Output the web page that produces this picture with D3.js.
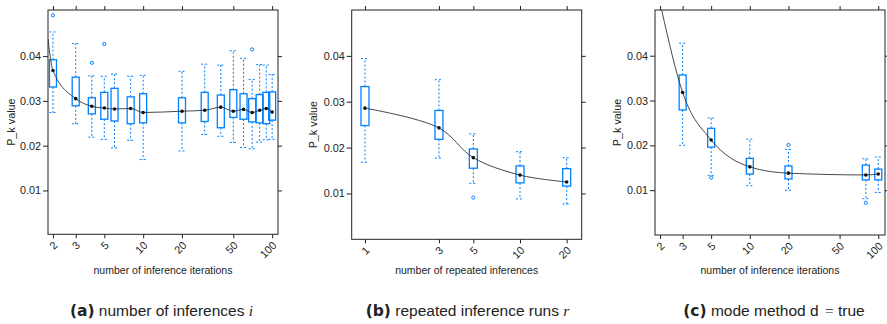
<!DOCTYPE html>
<html>
<head>
<meta charset="utf-8">
<script src="https://cdn.jsdelivr.net/npm/d3@7"></script>
<style>
  body { margin: 0; background: #fff; }
  svg text { font-family: "Liberation Sans", Arial, sans-serif; fill: #222; }
</style>
</head>
<body>
<svg id="chart" width="887" height="324"></svg>
<script>
// -------------------- DATA --------------------
// (a) number of inference iterations
const itersA = [2, 3, 4, 5, 6, 8, 10, 20, 30, 40, 50, 60, 70, 80, 90, 100];
const lowA  = [0.0274, 0.0249, 0.0219, 0.0214, 0.0195, 0.0212, 0.0169, 0.0188, 0.0225, 0.0221, 0.0207, 0.0196, 0.0193, 0.0208, 0.0213, 0.0214];
const q1A   = [0.0331, 0.0289, 0.0271, 0.0259, 0.0255, 0.0249, 0.0251, 0.0251, 0.0254, 0.0240, 0.0263, 0.0259, 0.0253, 0.0251, 0.0249, 0.0257];
const medA  = [0.0368, 0.0305, 0.0288, 0.0284, 0.0282, 0.0283, 0.0274, 0.0277, 0.0279, 0.0286, 0.0277, 0.0281, 0.0274, 0.0279, 0.0283, 0.0275];
const q3A   = [0.0392, 0.0353, 0.0307, 0.0319, 0.0328, 0.0309, 0.0316, 0.0307, 0.0319, 0.0313, 0.0325, 0.0316, 0.0305, 0.0314, 0.0319, 0.0320];
const highA = [0.0454, 0.0428, 0.0356, 0.0355, 0.0360, 0.0355, 0.0357, 0.0366, 0.0382, 0.0380, 0.0412, 0.0395, 0.0348, 0.0381, 0.0380, 0.0359];
const outA  = [[2, 0.0491], [4, 0.0385], [5, 0.0427], [70, 0.0415]];
const lineStartA = [1.83, 0.0438];

// (b) repeated inference runs
const runsB = [1, 3, 5, 10, 20];
const lowB  = [0.0168, 0.0177, 0.0122, 0.0088, 0.0077];
const q1B   = [0.0248, 0.0218, 0.0155, 0.0123, 0.0116];
const medB  = [0.0286, 0.0243, 0.0178, 0.0140, 0.0125];
const q3B   = [0.0333, 0.0281, 0.0197, 0.0160, 0.0154];
const highB = [0.0394, 0.0348, 0.0230, 0.0191, 0.0178];
const outB  = [[5, 0.0091]];

// (c) mode method d = true
const itersC = [3, 5, 10, 20, 80, 100];
const lowC  = [0.0200, 0.0133, 0.0110, 0.0100, 0.0081, 0.0095];
const q1C   = [0.0279, 0.0196, 0.0136, 0.0125, 0.0123, 0.0123];
const medC  = [0.0318, 0.0212, 0.0152, 0.0138, 0.0134, 0.0136];
const q3C   = [0.0357, 0.0238, 0.0171, 0.0154, 0.0156, 0.0147];
const highC = [0.0428, 0.0261, 0.0214, 0.0191, 0.0170, 0.0174];
const outC  = [[5, 0.0128], [20, 0.0201], [80, 0.0072]];
const lineStartC = [2.06, 0.0502];

const yTicks = [0.01, 0.02, 0.03, 0.04];
const xTicksIter = [2, 3, 5, 10, 20, 50, 100];
const xTicksRuns = [1, 3, 5, 10, 20];

// -------------------- SVG --------------------
const svg = d3.select("#chart");
const blue = "#0080ff";

function makeBoxes(xs, lo, q1, md, q3, hi) {
  return xs.map((v, i) => ({ x: v, lo: lo[i], q1: q1[i], md: md[i], q3: q3[i], hi: hi[i] }));
}

function drawPanel(p) {
  const x = d3.scaleLog().domain(p.xDom).range([p.left, p.right]);
  const y = d3.scaleLinear().domain(p.yDom).range([p.bottom, p.top]);
  const g = svg.append("g");

  const clipId = "clip" + p.id;
  g.append("clipPath").attr("id", clipId)
    .append("rect")
    .attr("x", p.left).attr("y", p.top)
    .attr("width", p.right - p.left).attr("height", p.bottom - p.top);

  const plot = g.append("g").attr("clip-path", `url(#${clipId})`);
  const bw = p.boxWidth;

  // whiskers
  const wh = plot.append("g")
    .attr("stroke", blue).attr("stroke-width", 1).attr("stroke-dasharray", "2,2");
  wh.selectAll(".wu").data(p.boxes).join("line")
    .attr("x1", d => x(d.x)).attr("x2", d => x(d.x))
    .attr("y1", d => y(d.q3)).attr("y2", d => y(d.hi));
  wh.selectAll(".wl").data(p.boxes).join("line")
    .attr("x1", d => x(d.x)).attr("x2", d => x(d.x))
    .attr("y1", d => y(d.q1)).attr("y2", d => y(d.lo));
  wh.selectAll(".cu").data(p.boxes).join("line")
    .attr("x1", d => x(d.x) - bw / 2).attr("x2", d => x(d.x) + bw / 2)
    .attr("y1", d => y(d.hi)).attr("y2", d => y(d.hi));
  wh.selectAll(".cl").data(p.boxes).join("line")
    .attr("x1", d => x(d.x) - bw / 2).attr("x2", d => x(d.x) + bw / 2)
    .attr("y1", d => y(d.lo)).attr("y2", d => y(d.lo));

  // boxes
  plot.append("g").selectAll("rect").data(p.boxes).join("rect")
    .attr("x", d => x(d.x) - bw / 2)
    .attr("y", d => y(d.q3))
    .attr("width", bw)
    .attr("height", d => y(d.q1) - y(d.q3))
    .attr("fill", "none")
    .attr("stroke", blue)
    .attr("stroke-width", 1.3);

  // outliers
  plot.append("g").selectAll("circle").data(p.outliers).join("circle")
    .attr("cx", d => x(d[0])).attr("cy", d => y(d[1]))
    .attr("r", 1.6)
    .attr("fill", "none").attr("stroke", blue).attr("stroke-width", 1);

  // trend line
  const pts = (p.lineStart ? [p.lineStart] : []).concat(p.boxes.map(d => [d.x, d.md]));
  plot.append("path")
    .datum(pts)
    .attr("fill", "none")
    .attr("stroke", "#333")
    .attr("stroke-width", 0.9)
    .attr("d", d3.line().x(d => x(d[0])).y(d => y(d[1])).curve(p.curve));

  // median dots
  plot.append("g").selectAll("circle").data(p.boxes).join("circle")
    .attr("cx", d => x(d.x)).attr("cy", d => y(d.md))
    .attr("r", 1.8).attr("fill", "#111");

  // axes
  const fmt = d3.format(".2f");
  const left = g.append("g").attr("transform", `translate(${p.left},0)`)
    .call(d3.axisLeft(y).tickValues(yTicks).tickSize(5).tickPadding(2).tickFormat(fmt));
  const right = g.append("g").attr("transform", `translate(${p.right},0)`)
    .call(d3.axisRight(y).tickValues(yTicks).tickSize(4).tickFormat(""));
  const top = g.append("g").attr("transform", `translate(0,${p.top})`)
    .call(d3.axisTop(x).tickValues(p.xTicks).tickSize(4).tickFormat(""));
  const bottom = g.append("g").attr("transform", `translate(0,${p.bottom})`)
    .call(d3.axisBottom(x).tickValues(p.xTicks).tickSize(4).tickFormat(d3.format("d")));
  [left, right, top, bottom].forEach(a => {
    a.select(".domain").remove();
    a.selectAll("line").attr("stroke", "#222");
    a.selectAll("text").attr("font-size", 10.8).attr("fill", "#222")
      .style("font-family", '"Liberation Sans", Arial, sans-serif');
  });
  bottom.selectAll("text")
    .attr("x", 0).attr("y", 0).attr("dy", "0.35em")
    .attr("text-anchor", "end")
    .attr("transform", "translate(2,9) rotate(-45)");

  // frame
  g.append("rect")
    .attr("x", p.left).attr("y", p.top)
    .attr("width", p.right - p.left).attr("height", p.bottom - p.top)
    .attr("fill", "none").attr("stroke", "#222").attr("stroke-width", 1);

  // titles
  g.append("text")
    .attr("x", (p.left + p.right) / 2).attr("y", 270).attr("dy", "0.35em")
    .attr("text-anchor", "middle").attr("font-size", 10.5)
    .text(p.xTitle);
  g.append("text")
    .attr("transform", `translate(${p.yTitleX},${(p.top + p.bottom) / 2}) rotate(-90)`)
    .attr("dy", "0.35em")
    .attr("text-anchor", "middle").attr("font-size", 10.8)
    .text("P_k value");
}

drawPanel({
  id: "a", left: 48, right: 278, top: 10, bottom: 234.3,
  xDom: [1.83, 111], yDom: [0.0002, 0.0503], xTicks: xTicksIter,
  boxes: makeBoxes(itersA, lowA, q1A, medA, q3A, highA), outliers: outA, lineStart: lineStartA,
  curve: d3.curveMonotoneX,
  boxWidth: 7, xTitle: "number of inference iterations", yTitleX: 11
});
drawPanel({
  id: "b", left: 351.7, right: 581.7, top: 10, bottom: 239.3,
  xDom: [0.821, 25.0], yDom: [0, 0.0500], xTicks: xTicksRuns,
  boxes: makeBoxes(runsB, lowB, q1B, medB, q3B, highB), outliers: outB, lineStart: null,
  curve: d3.curveCatmullRom.alpha(0.5),
  boxWidth: 8, xTitle: "number of repeated inferences", yTitleX: 313.5
});
drawPanel({
  id: "c", left: 655, right: 885, top: 10, bottom: 235,
  xDom: [1.828, 112.8], yDom: [0, 0.0502], xTicks: xTicksIter,
  boxes: makeBoxes(itersC, lowC, q1C, medC, q3C, highC), outliers: outC, lineStart: lineStartC,
  curve: d3.curveMonotoneX,
  boxWidth: 7, xTitle: "number of inference iterations", yTitleX: 617.5
});

// -------------------- CAPTIONS --------------------
const captions = [
  { cx: 161.5, label: "(a)", parts: [["number of inferences ", "n"], ["i", "m"]] },
  { cx: 467.5, label: "(b)", parts: [["repeated inference runs ", "n"], ["r", "m"]] },
  { cx: 774, label: "(c)", parts: [["mode method d ", "n"], ["=", "s"], [" true", "n"]] }
];
captions.forEach(c => {
  const t = svg.append("text").attr("x", c.cx).attr("y", 316)
    .attr("text-anchor", "middle").attr("font-size", 15.5);
  t.append("tspan").text(c.label)
    .style("font-family", '"DejaVu Sans", sans-serif').attr("font-weight", "bold");
  t.append("tspan").text(" ");
  c.parts.forEach(pt => {
    const s = t.append("tspan").text(pt[0]);
    if (pt[1] === "m") s.style("font-family", '"Liberation Serif", serif').attr("font-style", "italic");
    if (pt[1] === "s") s.style("font-family", '"Liberation Serif", serif').attr("dx", 2);
  });
});
</script>
</body>
</html>
